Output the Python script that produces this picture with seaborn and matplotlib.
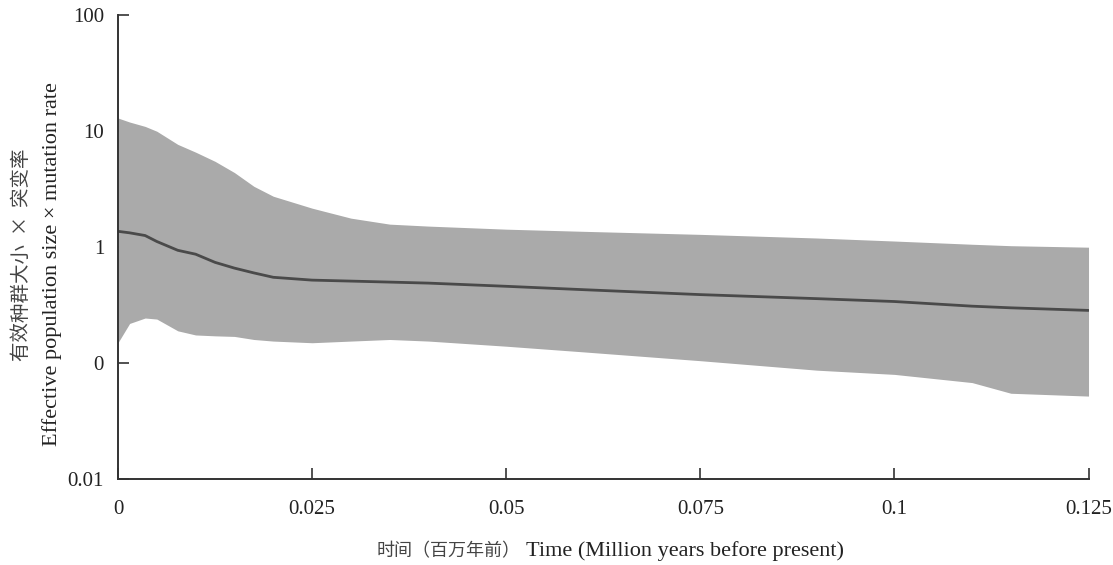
import numpy as np
import pandas as pd
import matplotlib
matplotlib.use("Agg")
import matplotlib.pyplot as plt
import seaborn as sns

# --- Data (time in Myr, Ne*mu) ---
time_myr = [0, 0.0015, 0.0035, 0.005, 0.0077, 0.01, 0.0125, 0.015, 0.0175, 0.02,
            0.025, 0.03, 0.035, 0.04, 0.05, 0.06, 0.075, 0.09, 0.1, 0.11, 0.115, 0.125]
median = [1.37, 1.33, 1.26, 1.12, 0.94, 0.87, 0.74, 0.66, 0.60, 0.55,
          0.52, 0.51, 0.50, 0.49, 0.46, 0.43, 0.39, 0.36, 0.34, 0.31, 0.30, 0.285]
upper = [13.0, 12.0, 11.0, 10.0, 7.7, 6.6, 5.5, 4.4, 3.35, 2.75,
         2.17, 1.78, 1.58, 1.52, 1.43, 1.37, 1.29, 1.2, 1.13, 1.06, 1.03, 1.0]
lower = [0.15, 0.22, 0.245, 0.24, 0.19, 0.175, 0.172, 0.17, 0.16, 0.155,
         0.15, 0.155, 0.16, 0.155, 0.14, 0.125, 0.105, 0.087, 0.08, 0.068, 0.055, 0.052]

x_ticks = [0, 0.025, 0.05, 0.075, 0.1, 0.125]
x_tick_labels = ["0", "0.025", "0.05", "0.075", "0.1", "0.125"]
y_ticks = [0.01, 0.1, 1, 10, 100]
y_tick_labels = ["0.01", "0", "1", "10", "100"]

df = pd.DataFrame({"time": time_myr, "median": median, "lower": lower, "upper": upper})

sns.set_style("ticks")
fonts = ["Liberation Serif", "Noto Sans CJK SC", "DejaVu Sans"]
cjk = ["Noto Sans CJK SC", "DejaVu Sans"]
plt.rcParams["font.family"] = fonts

fig = plt.figure(figsize=(11.13, 5.65), dpi=100)
ax = fig.add_axes([0.106, 0.152, 0.872, 0.821])

ax.fill_between(df["time"], df["lower"], df["upper"], color="#aaaaaa", linewidth=0)
sns.lineplot(data=df, x="time", y="median", ax=ax, color="#4a4a4a", linewidth=2)

ax.set_yscale("log")
ax.set_ylim(0.01, 100)
ax.set_xlim(0, 0.125)
ax.set_yticks(y_ticks)
ax.set_yticklabels(y_tick_labels)
ax.set_xticks(x_ticks)
ax.set_xticklabels(x_tick_labels)
ax.minorticks_off()
ax.tick_params(axis="both", direction="in", length=8, width=1.2, colors="#333333",
               labelsize=15, labelcolor="#222222")
ax.tick_params(axis="y", pad=10)
ax.tick_params(axis="x", pad=15)
ax.set_xlabel("")
ax.set_ylabel("")
sns.despine(ax=ax)
for s in ["left", "bottom"]:
    ax.spines[s].set_color("#333333")
    ax.spines[s].set_linewidth(1.4)

# y label in two lines (Chinese + English)
fig.text(0.019, 0.549, "有效种群大小  ×  突变率", rotation=90, ha="center", va="center",
         fontsize=14, color="#444444", family=cjk)
fig.text(0.047, 0.533, "Effective population size × mutation rate", rotation=90,
         ha="center", va="center", fontsize=16, color="#222222", family=fonts)
# x label
fig.text(0.338, 0.025, "时间（百万年前）", ha="left", va="center",
         fontsize=13, color="#444444", family=cjk)
fig.text(0.473, 0.025, "Time (Million years before present)", ha="left", va="center",
         fontsize=16, color="#222222", family=fonts)

fig.savefig("out.png", dpi=100)
